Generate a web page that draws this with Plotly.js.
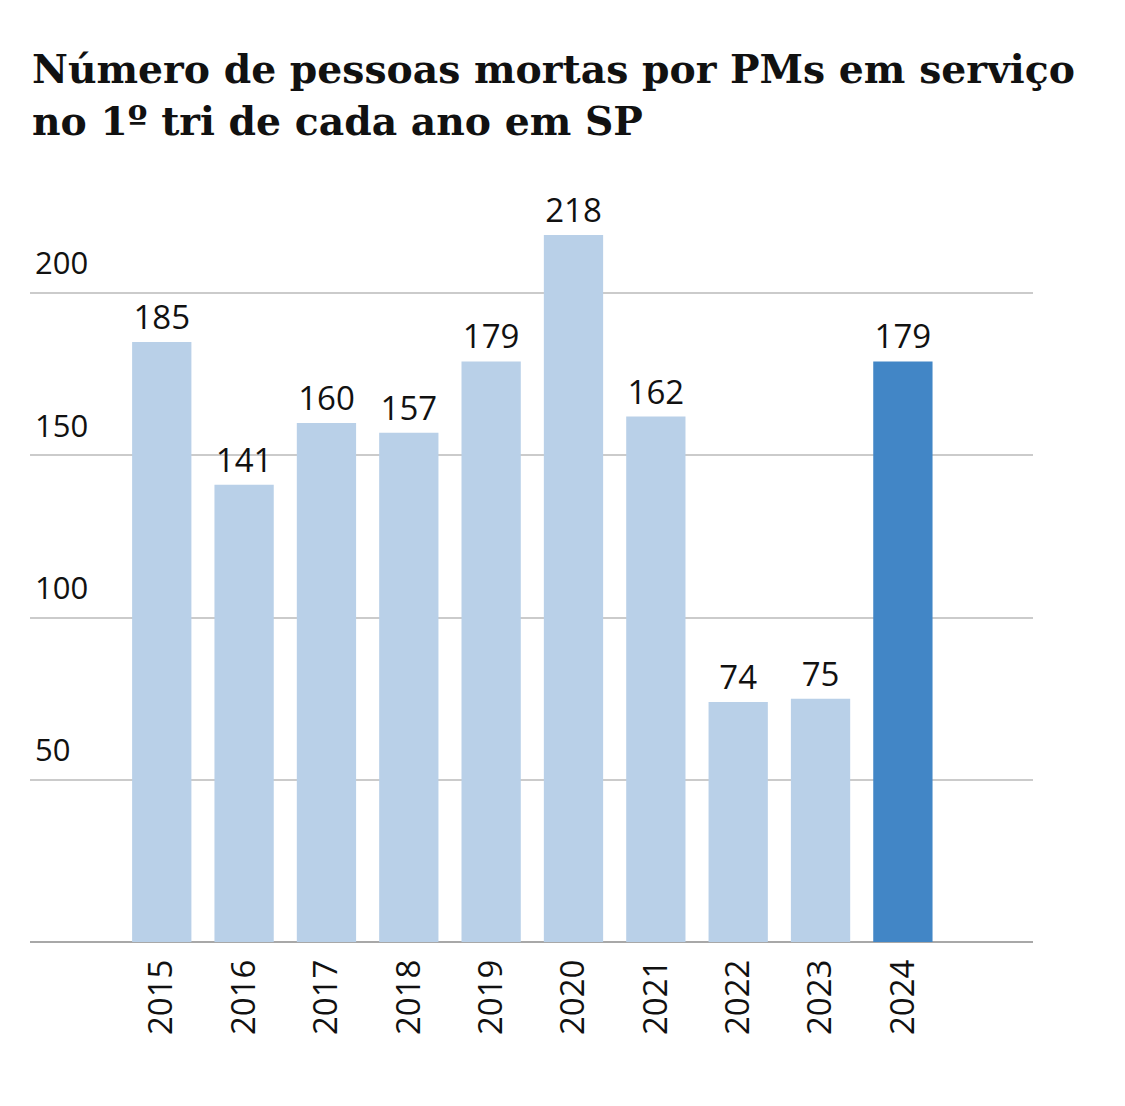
<!DOCTYPE html>
<html>
<head>
<meta charset="utf-8">
<script src="https://cdn.plot.ly/plotly-3.0.1.min.js"></script>
<style>html,body{margin:0;padding:0;background:#fff;}#chart{width:1125px;height:1106px;}</style>
</head>
<body>
<div id="chart"></div>
<script>
const years = ["2015","2016","2017","2018","2019","2020","2021","2022","2023","2024"];
const deaths = [185, 141, 160, 157, 179, 218, 162, 74, 75, 179];
const yTicks = [50, 100, 150, 200];
const titleLine1 = "Número de pessoas mortas por PMs em serviço";
const titleLine2 = "no 1º tri de cada ano em SP";

const colors = years.map((y, i) => i === years.length - 1 ? "#4286c6" : "#b9d0e8");

const trace = {
  type: "bar",
  x: years,
  y: deaths,
  marker: {color: colors},
  text: deaths.map(String),
  textposition: "outside",
  textfont: {family: "Open Sans", size: 33, color: "#111"},
  cliponaxis: false,
  hoverinfo: "none"
};

const layout = {
  width: 1125, height: 1106,
  margin: {l: 30, r: 92, t: 196, b: 164},
  paper_bgcolor: "#fff", plot_bgcolor: "#fff",
  showlegend: false,
  bargap: 0.28,
  xaxis: {
    type: "category",
    range: [-1.6, 10.58],
    tickangle: -90,
    tickfont: {family: "Open Sans", size: 33, color: "#111"},
    ticks: "", showgrid: false, showline: false, zeroline: false,
    ticklabelstandoff: 10
  },
  yaxis: {
    range: [0, 230],
    tickvals: yTicks,
    ticktext: yTicks.map(String),
    ticklabelposition: "inside top",
    ticklabelshift: -8,
    ticklabelstandoff: 2,
    tickfont: {family: "Open Sans", size: 31, color: "#111"},
    showgrid: true, gridcolor: "#cbcbcb", gridwidth: 2,
    zeroline: true, zerolinecolor: "#a8a8a8", zerolinewidth: 2,
    showline: false, ticks: ""
  },
  annotations: [
    {text: "<b>" + titleLine1 + "</b>", xref: "paper", yref: "paper", x: 0, y: (942 - 94) / 746,
     xanchor: "left", yanchor: "bottom", showarrow: false,
     font: {family: "DejaVu Serif", size: 39.3, color: "#111"}},
    {text: "<b>" + titleLine2 + "</b>", xref: "paper", yref: "paper", x: 0, y: (942 - 146) / 746,
     xanchor: "left", yanchor: "bottom", showarrow: false,
     font: {family: "DejaVu Serif", size: 39.3, color: "#111"}}
  ]
};

Plotly.newPlot("chart", [trace], layout, {displayModeBar: false, staticPlot: true});
</script>
</body>
</html>
